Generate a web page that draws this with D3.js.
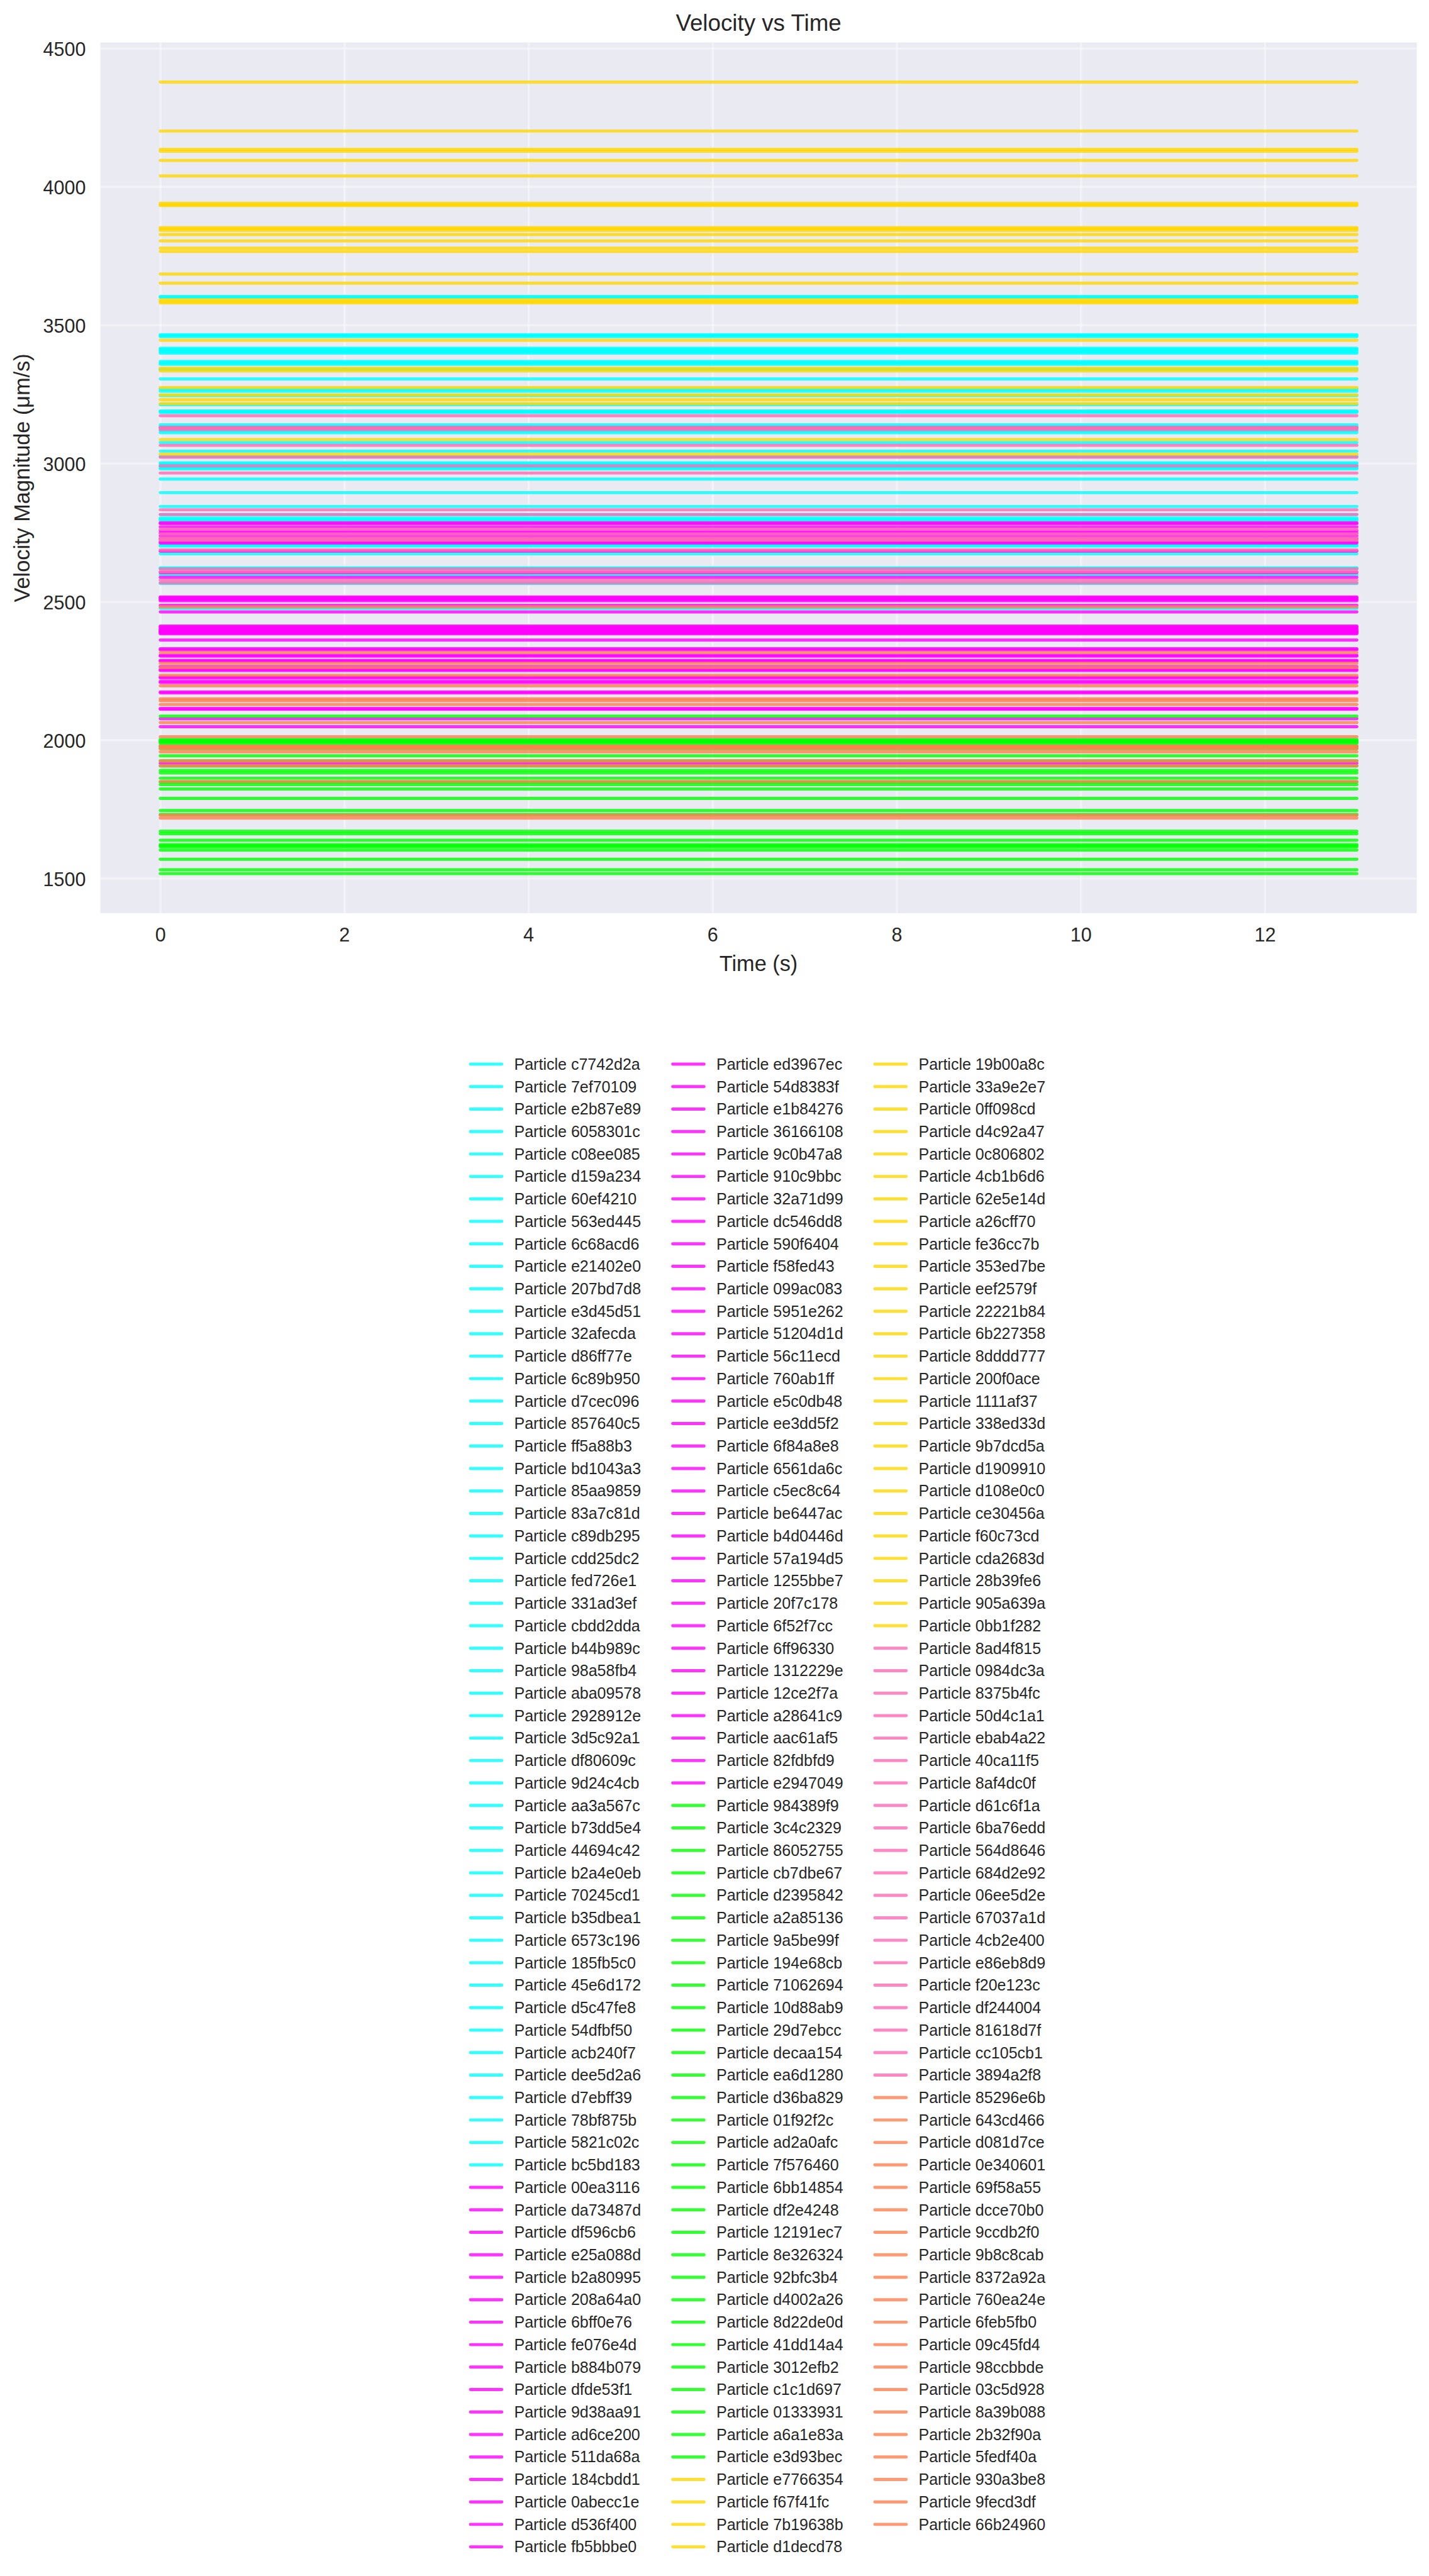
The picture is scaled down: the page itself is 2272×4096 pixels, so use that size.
<!DOCTYPE html>
<html><head><meta charset="utf-8">
<script src="https://cdn.jsdelivr.net/npm/d3@7"></script>
<style>body{margin:0;background:#fff}svg{display:block}</style>
</head><body>
<svg id="c" width="2272" height="4096"></svg>
<script>
// ---- DATA ----
const particleIds = [
"c7742d2a","7ef70109","e2b87e89","6058301c","c08ee085","d159a234","60ef4210","563ed445","6c68acd6","e21402e0",
"207bd7d8","e3d45d51","32afecda","d86ff77e","6c89b950","d7cec096","857640c5","ff5a88b3","bd1043a3","85aa9859",
"83a7c81d","c89db295","cdd25dc2","fed726e1","331ad3ef","cbdd2dda","b44b989c","98a58fb4","aba09578","2928912e",
"3d5c92a1","df80609c","9d24c4cb","aa3a567c","b73dd5e4","44694c42","b2a4e0eb","70245cd1","b35dbea1","6573c196",
"185fb5c0","45e6d172","d5c47fe8","54dfbf50","acb240f7","dee5d2a6","d7ebff39","78bf875b","5821c02c","bc5bd183",
"00ea3116","da73487d","df596cb6","e25a088d","b2a80995","208a64a0","6bff0e76","fe076e4d","b884b079","dfde53f1",
"9d38aa91","ad6ce200","511da68a","184cbdd1","0abecc1e","d536f400","fb5bbbe0",
"ed3967ec","54d8383f","e1b84276","36166108","9c0b47a8","910c9bbc","32a71d99","dc546dd8","590f6404","f58fed43",
"099ac083","5951e262","51204d1d","56c11ecd","760ab1ff","e5c0db48","ee3dd5f2","6f84a8e8","6561da6c","c5ec8c64",
"be6447ac","b4d0446d","57a194d5","1255bbe7","20f7c178","6f52f7cc","6ff96330","1312229e","12ce2f7a","a28641c9",
"aac61af5","82fdbfd9","e2947049",
"984389f9","3c4c2329","86052755","cb7dbe67","d2395842","a2a85136","9a5be99f","194e68cb","71062694","10d88ab9",
"29d7ebcc","decaa154","ea6d1280","d36ba829","01f92f2c","ad2a0afc","7f576460","6bb14854","df2e4248","12191ec7",
"8e326324","92bfc3b4","d4002a26","8d22de0d","41dd14a4","3012efb2","c1c1d697","01333931","a6a1e83a","e3d93bec",
"e7766354","f67f41fc","7b19638b","d1decd78",
"19b00a8c","33a9e2e7","0ff098cd","d4c92a47","0c806802","4cb1b6d6","62e5e14d","a26cff70","fe36cc7b","353ed7be",
"eef2579f","22221b84","6b227358","8dddd777","200f0ace","1111af37","338ed33d","9b7dcd5a","d1909910","d108e0c0",
"ce30456a","f60c73cd","cda2683d","28b39fe6","905a639a","0bb1f282",
"8ad4f815","0984dc3a","8375b4fc","50d4c1a1","ebab4a22","40ca11f5","8af4dc0f","d61c6f1a","6ba76edd","564d8646",
"684d2e92","06ee5d2e","67037a1d","4cb2e400","e86eb8d9","f20e123c","df244004","81618d7f","cc105cb1","3894a2f8",
"85296e6b","643cd466","d081d7ce","0e340601","69f58a55","dcce70b0","9ccdb2f0","9b8c8cab","8372a92a","760ea24e",
"6feb5fb0","09c45fd4","98ccbbde","03c5d928","8a39b088","2b32f90a","5fedf40a","930a3be8","9fecd3df","66b24960"
];
// velocity magnitude (µm/s), one constant value per particle, in legend order
const cyanVelocities = [3603,3465,3462,3458,3416,3412,3408,3403,3398,3368,3363,3358,3340,3305,3268,3261,3245,3212,3189,3187,
  3184,3139,3133,3127,3118,3111,3075,3044,3025,3002,2998,2991,2984,2980,2943,2894,2844,2815,2802,2798,
  2794,2705,2701,2673,2622,2620,2597,2566,2476,3600];
const magentaVelocities = [2785,2782,2770,2756,2748,2738,2728,2716,2712,2683,2605,2588,2517,2514,2510,2507,2503,2487,2463,2412,
  2409,2405,2401,2397,2394,2392,2389,2387,2384,2361,2330,2326,2306,2303,2288,2285,2265,2255,2251,2228,
  2224,2212,2208,2174,2170,2114,2111,2077,2048,1916];
const greenVelocities = [2086,2002,1998,1995,1992,1988,1978,1969,1943,1925,1906,1890,1881,1862,1848,1839,1823,1789,1745,1731,
  1670,1661,1638,1622,1618,1614,1602,1569,1531,1517];
const goldVelocities = [4378,4201,4135,4128,4095,4039,3940,3935,3932,3852,3848,3842,3827,3804,3778,3766,3684,3651,3591,3585,
  3580,3445,3344,3334,3274,3247,3230,3216,3086,3033];
const pinkVelocities = [3172,3130,3128,3122,3065,3022,2991,2965,2832,2815,2762,2745,2730,2725,2722,2687,2618,2608,2578,2568];
const coralVelocities = [2481,2316,2277,2262,2234,2196,2149,2142,2128,2063,2012,1978,1975,1969,1957,1924,1907,1850,1728,1718];
const groupVelocities = [cyanVelocities, magentaVelocities, greenVelocities, goldVelocities, pinkVelocities, coralVelocities];
const groupColors = ["#00FFFF","#FF00FF","#00FF00","#FFD700","#FF69B4","#FF7F50"];
const timeSpan = [0, 13];
const xTicks = [0,2,4,6,8,10,12];
const yTicks = [1500,2000,2500,3000,3500,4000,4500];
const titleText = "Velocity vs Time";
const xLabelText = "Time (s)";
const yLabelText = "Velocity Magnitude (μm/s)";

// ---- BUILD ----
const particles = [];
groupVelocities.forEach((arr, gi) => arr.forEach(v => {
  particles.push({ id: particleIds[particles.length], v: v, color: groupColors[gi] });
}));

const S = 2272 / 3032;
const FONT = "'Liberation Sans', Arial, sans-serif";
const TXT = "#262626";
const svg = d3.select("#c");
const g = svg.append("g").attr("transform", `scale(${S})`);

const L = 213, R = 3006, T = 90.2, B = 1937.8;
const tPad = 0.05 * (timeSpan[1] - timeSpan[0]);
const x = d3.scaleLinear().domain([timeSpan[0] - tPad, timeSpan[1] + tPad]).range([L, R]);
const [vmin, vmax] = d3.extent(particles, d => d.v);
const vPad = 0.05 * (vmax - vmin);
const y = d3.scaleLinear().domain([vmin - vPad, vmax + vPad]).range([B, T]);

g.append("rect").attr("x", L).attr("y", T).attr("width", R - L).attr("height", B - T).attr("fill", "#EAEAF2");

const gx = g.append("g").attr("transform", `translate(0,${B})`)
  .call(d3.axisBottom(x).tickValues(xTicks).tickSize(-(B - T)).tickPadding(31).tickFormat(d3.format("d")));
const gy = g.append("g").attr("transform", `translate(${L},0)`)
  .call(d3.axisLeft(y).tickValues(yTicks).tickSize(-(R - L)).tickPadding(31).tickFormat(d3.format("d")));
[gx, gy].forEach(ax => {
  ax.select(".domain").remove();
  ax.selectAll(".tick line").attr("stroke", "#ffffff").attr("stroke-opacity", 0.4).attr("stroke-width", 4.5);
  ax.selectAll(".tick text").attr("fill", TXT).attr("font-size", 40.7).attr("font-family", FONT);
});
gy.selectAll(".tick text").attr("dy", "0.38em");

const line = d3.line().x(d => x(d[0])).y(d => y(d[1]));
g.append("g").selectAll("path").data(particles).join("path")
  .attr("d", d => line(timeSpan.map(t => [t, d.v])))
  .attr("fill", "none").attr("stroke", d => d.color).attr("stroke-opacity", 0.8)
  .attr("stroke-width", 6.6).attr("stroke-linecap", "round");

g.append("text").attr("x", (L + R) / 2).attr("y", 65.7).attr("text-anchor", "middle")
  .attr("font-size", 49).attr("font-family", FONT).attr("fill", TXT).text(titleText);
g.append("text").attr("x", (L + R) / 2).attr("y", 2060).attr("text-anchor", "middle")
  .attr("font-size", 45.8).attr("font-family", FONT).attr("fill", TXT).text(xLabelText);
g.append("text").attr("transform", `translate(62.5,${(T + B) / 2}) rotate(-90)`).attr("text-anchor", "middle")
  .attr("font-size", 45.8).attr("font-family", FONT).attr("fill", TXT).text(yLabelText);

// ---- LEGEND (3 columns, filled column-wise) ----
const nRows = Math.ceil(particles.length / 3);
const colX = [995, 1424, 1853];
const rowY = d3.scaleLinear().domain([0, 1]).range([2258, 2258 + 47.67]);
const leg = g.append("g").selectAll("g").data(particles).join("g")
  .attr("transform", (d, i) => `translate(${colX[Math.floor(i / nRows)]},${rowY(i % nRows)})`);
leg.append("line").attr("x1", 3.3).attr("x2", 73 - 3.3).attr("y1", 0).attr("y2", 0)
  .attr("stroke", d => d.color).attr("stroke-opacity", 0.8).attr("stroke-width", 6.6).attr("stroke-linecap", "round");
leg.append("text").attr("x", 96).attr("y", 11.7).attr("font-size", 33.4).attr("font-family", FONT)
  .attr("fill", TXT).text(d => "Particle " + d.id);
</script>
</body></html>
